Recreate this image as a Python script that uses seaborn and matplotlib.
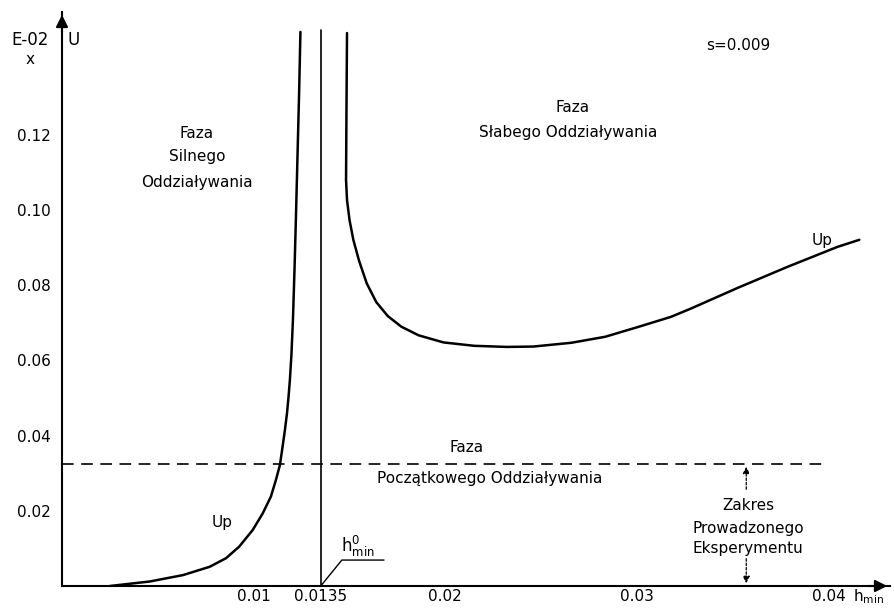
import matplotlib
matplotlib.use("Agg")
import matplotlib.pyplot as plt
import seaborn as sns

# ---- data ----
left_x = [0.0025, 0.00458, 0.00631, 0.0077, 0.00856, 0.00925, 0.00995, 0.01047,
          0.0109, 0.01116, 0.01137, 0.01151, 0.01163, 0.01174, 0.01182, 0.01189,
          0.01197, 0.01205, 0.01213, 0.01221, 0.01229, 0.01237, 0.01244]
left_y = [0.0, 0.0012, 0.0029, 0.0051, 0.0074, 0.0105, 0.0149, 0.0193,
          0.0238, 0.0282, 0.0322, 0.0371, 0.0415, 0.046, 0.0504, 0.0548,
          0.0615, 0.0710, 0.0840, 0.0990, 0.1150, 0.1310, 0.1474]

right_x = [0.01487, 0.01484, 0.01482, 0.01487, 0.01500, 0.01520, 0.01550, 0.01590,
           0.01640, 0.01700, 0.01770, 0.01860, 0.01990, 0.02150, 0.0232, 0.02459,
           0.02657, 0.02834, 0.03005, 0.03177, 0.03281, 0.03525, 0.03785, 0.04045,
           0.0416]
right_y = [0.1471, 0.125, 0.108, 0.1027, 0.0974, 0.0921, 0.0865, 0.0805,
           0.0755, 0.0718, 0.0690, 0.0667, 0.0648, 0.0639, 0.0636, 0.0637,
           0.0647, 0.0663, 0.0689, 0.0716, 0.0738, 0.0793, 0.0849, 0.0902,
           0.0921]

h0 = 0.0135
threshold = 0.0325
dash_x = [0.0, 0.0398]
xticks = [0.01, 0.0135, 0.02, 0.03, 0.04]
xtick_labels = ["0.01", "0.0135", "0.02", "0.03", "0.04"]
yticks = [0.02, 0.04, 0.06, 0.08, 0.10, 0.12]
ytick_labels = ["0.02", "0.04", "0.06", "0.08", "0.10", "0.12"]

sns.set_style("white")
plt.rcParams['font.family'] = ['DejaVu Sans']
plt.rcParams['text.color'] = 'black'
plt.rcParams['xtick.color'] = 'black'
plt.rcParams['ytick.color'] = 'black'
plt.rcParams['mathtext.default'] = 'regular'
FS = 11

fig = plt.figure(figsize=(8.95, 6.08), dpi=100)
ax = fig.add_axes([62/895, 22/608, (890-62)/895, (586-12)/608])
ax.set_xlim(0, 0.0432)
ax.set_ylim(0, 0.1527)

sns.lineplot(x=left_x, y=left_y, ax=ax, color="black", lw=1.8, sort=False, estimator=None)
sns.lineplot(x=right_x, y=right_y, ax=ax, color="black", lw=1.8, sort=False, estimator=None)
sns.lineplot(x=dash_x, y=[threshold, threshold], ax=ax, color="black", lw=1.2,
             sort=False, estimator=None, linestyle=(0, (7, 4.5)))
ax.plot([h0, h0], [0, 0.148], color="black", lw=1.2)

for s in ["top", "right"]:
    ax.spines[s].set_visible(False)
for s in ["left", "bottom"]:
    ax.spines[s].set_linewidth(1.5)
    ax.spines[s].set_color("black")

# axis arrows
ax.annotate("", xy=(1.0, 0), xytext=(0.97, 0), xycoords="axes fraction",
            arrowprops=dict(arrowstyle="-|>", color="black", lw=1.5, mutation_scale=18))
ax.annotate("", xy=(0, 1.0), xytext=(0, 0.96), xycoords="axes fraction",
            arrowprops=dict(arrowstyle="-|>", color="black", lw=1.5, mutation_scale=18))

ax.set_xticks(xticks)
ax.set_xticklabels(xtick_labels, fontsize=FS)
ax.set_yticks(yticks + [0.14, threshold])
ax.set_yticklabels(ytick_labels + ["", ""], fontsize=FS)
ax.tick_params(axis="both", direction="in", length=9, width=1.0, colors="black")
ax.tick_params(axis="x", pad=2)
ax.tick_params(axis="y", pad=8)


def ft(x, y, s, **kw):
    d = dict(fontsize=FS, ha="center", va="center", color="black")
    d.update(kw)
    fig.text(x/895, 1-y/608, s, **d)


# axis captions
ft(30, 40, "E-02", fontsize=FS+1)
ft(30, 59, "x")
ft(74, 40, "U", fontsize=FS+1)
ft(869, 597, r"h$_{min}$")

# annotations
ft(738, 45, "s=0.009")
ft(197, 133, "Faza")
ft(197, 157, "Silnego")
ft(197, 183, "Oddziaływania")
ft(573, 107, "Faza")
ft(568, 132, "Słabego Oddziaływania")
ft(822, 241, "Up")
ft(222, 523, "Up")
ft(467, 448, "Faza")
ft(490, 479, "Początkowego Oddziaływania")
ft(748, 506, "Zakres")
ft(748, 528, "Prowadzonego")
ft(748, 549, "Eksperymentu")
ft(358, 546, r"h$^{0}_{min}$", fontsize=FS+1)

# leader line for h0
ax.plot([h0, h0 + 0.0011, h0 + 0.0033], [0, 0.0069, 0.0069], color="black", lw=1.0)

# range arrows
xr = 0.0357
ax.annotate("", xy=(xr, threshold), xytext=(xr, 0.025),
            arrowprops=dict(arrowstyle="-|>", color="black", lw=0.9,
                            linestyle=(0, (2, 1.5)), mutation_scale=10))
ax.annotate("", xy=(xr, 0.0), xytext=(xr, 0.008),
            arrowprops=dict(arrowstyle="-|>", color="black", lw=0.9,
                            linestyle=(0, (2, 1.5)), mutation_scale=10))

fig.savefig("out.png", dpi=100)
